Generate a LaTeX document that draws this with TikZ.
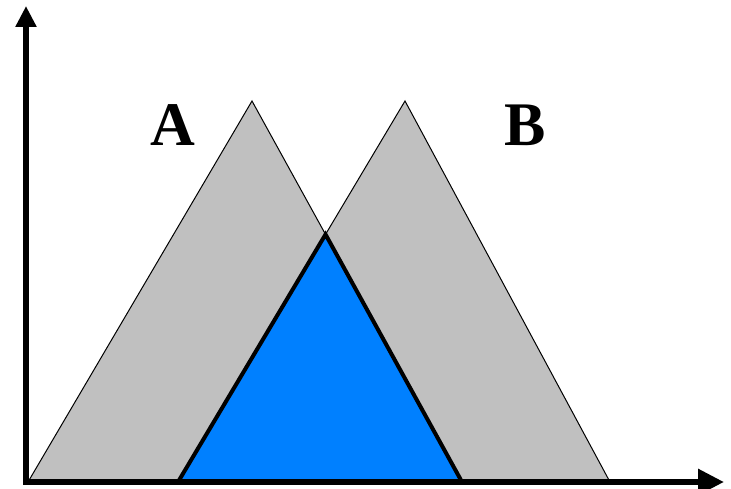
\documentclass[tikz,border=0pt]{standalone}
\usepackage{fontspec}
\setmainfont{Liberation Serif}
\usetikzlibrary{arrows.meta}
\definecolor{fuzzgray}{HTML}{C0C0C0}
\definecolor{fuzzblue}{HTML}{0080FF}
\tikzset{
  setfill/.style={fill=fuzzgray, draw=black, line width=1pt, line join=miter},
  interfill/.style={fill=fuzzblue, draw=black, line width=4pt, line join=miter},
  axisline/.style={draw=black, line width=6pt},
  setlabel/.style={font=\fontsize{62}{62}\selectfont\bfseries, inner sep=0pt, anchor=center}
}
\begin{document}
\begin{tikzpicture}[x=1pt, y=-1pt]
\useasboundingbox (0,0) rectangle (731,489);
% coordinates
\coordinate (aL) at (28,482);
\coordinate (aT) at (252,101);
\coordinate (aR) at (462,482);
\coordinate (bL) at (178,482);
\coordinate (bT) at (405,101);
\coordinate (bR) at (610,482);
% intersection of A right edge and B left edge
\coordinate (iX) at (intersection of aT--aR and bT--bL);
\coordinate (origin) at (26,482);
\coordinate (yEnd) at (26,6);
\coordinate (xEnd) at (724,482);
% fuzzy sets
\path[setfill] (aL) -- (aT) -- (aR) -- cycle;
\path[setfill] (bL) -- (bT) -- (bR) -- cycle;
\path[interfill] (bL) -- (iX) -- (aR) -- cycle;
% axes
\draw[axisline, -{Triangle[length=21pt, width=20pt]}] (origin) -- (yEnd);
\draw[axisline, -{Triangle[length=26pt, width=25pt]}] ([xshift=-3pt]origin) -- (xEnd);
% labels
\node[setlabel] (labA) at (173,125) {A};
\node[setlabel] (labB) at (525,125) {B};
\end{tikzpicture}
\end{document}
